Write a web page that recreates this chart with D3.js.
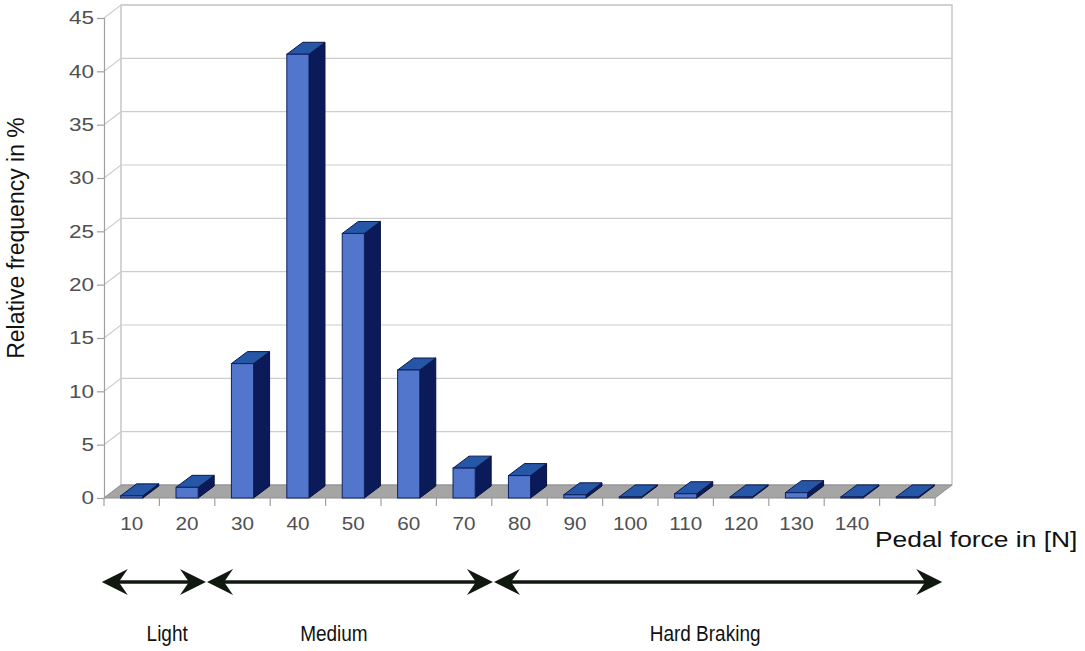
<!DOCTYPE html>
<html>
<head>
<meta charset="utf-8">
<script src="https://cdn.jsdelivr.net/npm/d3@7"></script>
<style>
  html, body { margin: 0; padding: 0; background: #fff; }
  svg { display: block; font-family: "Liberation Sans", Arial, sans-serif; }
</style>
</head>
<body>
<svg id="chart" width="1085" height="651"></svg>
<script>
// Pedal force classes (N); the last class has no tick label
const categories = ["10", "20", "30", "40", "50", "60", "70", "80", "90", "100", "110", "120", "130", "140", ""];
// Relative frequency in %
const values = [0.2, 1.0, 12.6, 41.6, 24.8, 12.0, 2.8, 2.1, 0.3, 0.1, 0.4, 0.1, 0.5, 0.1, 0.1];
const yTicks = [0, 5, 10, 15, 20, 25, 30, 35, 40, 45];

// Braking regimes along the force axis (N)
const regimeNames = ["Light", "Medium", "Hard Braking"];
const regimeStarts = [4.6, 23.6, 75.4];
const regimeEnds = [23.4, 75.2, 156.3];
const regimeLabelAt = [16.4, 46.5, 113.5];

const svg = d3.select("#chart");

// Front plane of the 3-D box
const plotLeft = 104, plotRight = 935, plotTop = 18, plotBottom = 498;
// Depth offset of the box and of the columns
const depth = { dx: 17, dy: -13 };
const colDepth = { dx: 16, dy: -12 };

const x = d3.scaleBand().domain(categories.map((c, i) => i)).range([plotLeft, plotRight])
  .paddingInner(0.6).paddingOuter(0.3);
const y = d3.scaleLinear().domain([0, 45]).range([plotBottom, plotTop]);
const force = d3.scaleLinear().domain([5, 155]).range([plotLeft, plotRight]);

const gridColor = "#cdcdcd";
const axisColor = "#a0a0a0";
const tickTextColor = "#505050";

// Back wall
const g = svg.append("g");
g.append("rect")
  .attr("x", plotLeft + depth.dx).attr("y", plotTop + depth.dy)
  .attr("width", plotRight - plotLeft).attr("height", plotBottom - plotTop)
  .attr("fill", "#fff").attr("stroke", "#b8b8b8").attr("stroke-width", 1.2);

// Gridlines: diagonal on the side wall, horizontal across the back wall
yTicks.forEach(t => {
  const yy = y(t);
  g.append("path")
    .attr("d", `M${plotLeft},${yy}L${plotLeft + depth.dx},${yy + depth.dy}L${plotRight + depth.dx},${yy + depth.dy}`)
    .attr("fill", "none").attr("stroke", gridColor).attr("stroke-width", 1.2);
});

// Floor
g.append("path")
  .attr("d", `M${plotLeft},${plotBottom}L${plotRight},${plotBottom}L${plotRight + depth.dx},${plotBottom + depth.dy}L${plotLeft + depth.dx},${plotBottom + depth.dy}Z`)
  .attr("fill", "#a5a5a5").attr("stroke", "#8e8e8e").attr("stroke-width", 1);

// Value axis on the front-left edge
const yAxis = d3.axisLeft(y).tickValues(yTicks).tickSize(7).tickFormat(d3.format("d"));
const ya = svg.append("g").attr("transform", `translate(${plotLeft},0)`).call(yAxis);
ya.select(".domain").attr("stroke", axisColor).attr("stroke-width", 1.2);
ya.selectAll(".tick line").attr("stroke", axisColor).attr("stroke-width", 1.2);
ya.selectAll(".tick text")
  .attr("x", 0)
  .attr("transform", "translate(-10,0) scale(1.25,1)")
  .attr("fill", tickTextColor)
  .style("font-size", "18px").style("font-family", "Liberation Sans, Arial, sans-serif");

// Category axis below the floor
const xAxis = d3.axisBottom(x).tickSize(0).tickPadding(19).tickFormat(i => categories[i]);
const xa = svg.append("g").attr("transform", `translate(0,${plotBottom})`).call(xAxis);
xa.select(".domain").remove();
xa.selectAll(".tick text")
  .attr("transform", "scale(1.15,1)")
  .attr("fill", tickTextColor)
  .style("font-size", "18px").style("font-family", "Liberation Sans, Arial, sans-serif");
// Tick marks at the class boundaries
const step = x.step();
d3.range(categories.length + 1).forEach(i => {
  const xx = plotLeft + i * step;
  svg.append("line").attr("x1", xx).attr("x2", xx).attr("y1", plotBottom).attr("y2", plotBottom + 8)
    .attr("stroke", axisColor).attr("stroke-width", 1.2);
});

// 3-D columns
const bw = x.bandwidth();
const cols = svg.append("g").selectAll("g").data(values).join("g");
cols.append("path") // side face
  .attr("d", (v, i) => {
    const x1 = x(i) + bw, yv = y(v), y0 = y(0);
    return `M${x1},${y0}L${x1},${yv}L${x1 + colDepth.dx},${yv + colDepth.dy}L${x1 + colDepth.dx},${y0 + colDepth.dy}Z`;
  })
  .attr("fill", "#0b1b5a").attr("stroke", "#06103a").attr("stroke-width", 1);
cols.append("path") // top face
  .attr("d", (v, i) => {
    const x0 = x(i), yv = y(v);
    return `M${x0},${yv}L${x0 + bw},${yv}L${x0 + bw + colDepth.dx},${yv + colDepth.dy}L${x0 + colDepth.dx},${yv + colDepth.dy}Z`;
  })
  .attr("fill", "#2656a6").attr("stroke", "#0a1a50").attr("stroke-width", 1);
cols.append("rect") // front face
  .attr("x", (v, i) => x(i)).attr("y", v => y(v))
  .attr("width", bw).attr("height", v => y(0) - y(v))
  .attr("fill", "#5176cc").attr("stroke", "#0f2160").attr("stroke-width", 1);

// Axis titles
svg.append("text")
  .attr("transform", `translate(24,238) rotate(-90)`)
  .attr("text-anchor", "middle")
  .style("font-size", "23px").attr("fill", "#111")
  .text("Relative frequency in %");
svg.append("text")
  .attr("transform", "translate(875,547) scale(1.2,1)")
  .style("font-size", "22px").attr("fill", "#111")
  .text("Pedal force in [N]");

// Regime arrows
const arrowY = 582;
const head = (tipX, dir) => {
  // swept-back arrowhead; dir = 1 points right, -1 points left
  const L = 26, W = 13, notch = 9;
  return `M${tipX},${arrowY}L${tipX - dir * L},${arrowY - W}L${tipX - dir * (L - notch)},${arrowY}L${tipX - dir * L},${arrowY + W}Z`;
};
const arrows = svg.append("g");
regimeNames.forEach((name, i) => {
  const a = force(regimeStarts[i]), b = force(regimeEnds[i]);
  arrows.append("line").attr("x1", a + 6).attr("x2", b - 6).attr("y1", arrowY).attr("y2", arrowY)
    .attr("stroke", "#101810").attr("stroke-width", 3.4);
  arrows.append("path").attr("d", head(a, -1)).attr("fill", "#101810");
  arrows.append("path").attr("d", head(b, 1)).attr("fill", "#101810");
  svg.append("text")
    .attr("transform", `translate(${force(regimeLabelAt[i])},641) scale(1,1.15)`)
    .attr("text-anchor", "middle")
    .style("font-size", "19px").attr("fill", "#111")
    .text(name);
});
</script>
</body>
</html>
